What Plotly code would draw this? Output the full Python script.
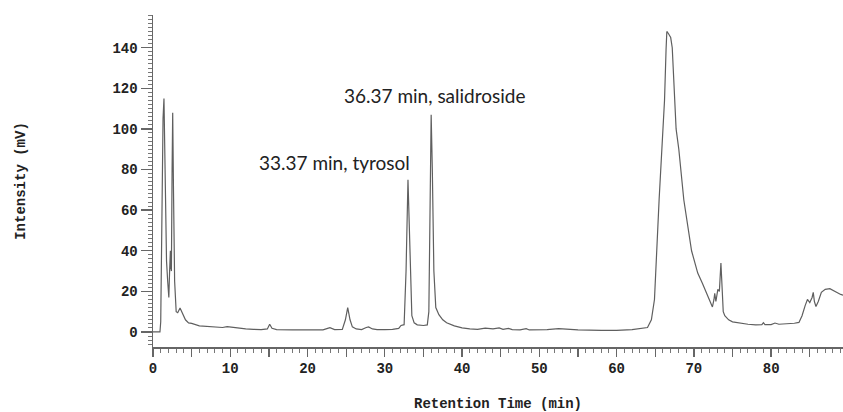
import plotly.graph_objects as go

# Retention time (min) and intensity (mV)
time_min = [
    0, 0.9, 1.0, 1.1, 1.2, 1.3, 1.42, 1.5, 1.6, 1.75, 1.9, 2.05, 2.15, 2.25, 2.3, 2.38, 2.47, 2.55, 2.65, 2.8,
    3.0, 3.2, 3.5, 3.8, 4.2, 4.6, 5.0, 6.0, 7.0, 8.0, 9.0, 9.6, 10.0, 10.5, 11.0, 12.0, 13.0, 14.0, 14.8, 15.1,
    15.4, 16.0, 18.0, 20.0, 22.0, 22.6, 22.9, 23.5, 24.5, 24.9, 25.2, 25.5, 25.8, 26.3, 27.0, 27.6, 27.9, 28.4,
    29.0, 30.0, 31.0, 31.8, 32.1, 32.5, 32.75, 33.0, 33.25, 33.5, 33.8, 34.2, 35.0, 35.5, 35.7, 35.85, 36.0,
    36.15, 36.35, 36.6, 37.0, 37.5, 38.0, 39.0, 40.0, 41.0, 42.0, 43.0, 43.5, 44.0, 44.8, 45.3, 46.0, 46.5,
    47.5, 48.3, 48.7, 50.0, 51.0, 52.5, 53.5, 55.0, 58.0, 60.0, 62.0, 63.5, 64.0, 64.5, 64.9, 65.5, 65.85,
    66.2, 66.4, 66.5, 66.7, 67.0, 67.2, 67.4, 67.7, 68.05, 68.7, 69.7, 70.5, 71.1, 72.0, 72.4, 72.6, 72.7,
    72.85, 73.0, 73.1, 73.3, 73.5, 73.65, 73.8, 74.0, 74.5, 75.0, 76.0, 77.0, 78.0, 78.8, 79.0, 79.2, 80.0,
    80.5, 81.0, 82.0, 83.0, 83.6, 84.0, 84.4, 84.7, 85.0, 85.3, 85.45, 85.6, 85.8, 86.1, 86.5, 87.0, 87.6,
    88.3, 89.0, 89.5,
]
intensity_mv = [
    0, 0, 5, 40, 80, 105, 115, 95, 60, 35, 25, 17, 30, 40, 32, 30, 80, 108, 70, 25,
    10, 9.5, 11.8, 9, 6, 4.5, 4.2, 3.0, 2.8, 2.5, 2.2, 2.6, 2.4, 2.2, 1.9, 1.5, 1.3, 1.2, 1.5, 3.8,
    1.8, 1.2, 1.0, 1.0, 1.0, 1.8, 2.1, 1.2, 1.3, 6, 12, 6, 2.5, 1.5, 1.2, 2.2, 2.5, 1.5,
    1.2, 1.2, 1.3, 1.8, 3.2, 3.6, 30, 75, 35, 8, 4.5, 3.5, 3.2, 3.5, 10, 60, 107,
    80, 30, 12, 8.5, 6, 4.5, 3, 2, 1.5, 1.3, 1.9, 1.6, 1.5, 2.0, 1.3, 1.8, 1.2,
    1.0, 1.6, 1.0, 1.0, 1.2, 1.6, 1.3, 1.0, 0.8, 0.8, 1.2, 1.8, 2.2, 6, 16, 65, 90,
    114, 139, 148, 147, 145, 140, 124, 100, 90, 65, 40, 29, 24, 16, 12.3, 16, 19,
    15, 19, 21, 20, 34, 22, 10, 8, 6, 5, 4.3, 3.8, 3.5, 3.6, 4.6, 3.6, 3.6,
    4.4, 3.8, 4.0, 4.3, 4.7, 8, 13, 16, 14.5, 17, 19.5, 15, 12.5, 15, 19.5, 21, 21.3,
    20, 18.5, 18,
]

x_tick_vals = [0, 5, 10, 15, 20, 25, 30, 35, 40, 45, 50, 55, 60, 65, 70, 75, 80, 85, 90]
x_tick_text = ["0", "", "10", "", "20", "", "30", "", "40", "", "50", "", "60", "", "70", "", "80", "", "90"]
y_tick_vals = [0, 20, 40, 60, 80, 100, 120, 140]

peak_labels = ["33.37 min, tyrosol", "36.37 min, salidroside"]
label_x = [23.5, 36.5]
label_y = [83.7, 116.7]

mono = "Liberation Mono, Courier New, monospace"

fig = go.Figure()
fig.add_trace(go.Scatter(
    x=time_min, y=intensity_mv, mode="lines",
    line=dict(color="#5f5f5f", width=1.2),
    showlegend=False, hoverinfo="skip",
))

for txt, ax, ay in zip(peak_labels, label_x, label_y):
    fig.add_annotation(x=ax, y=ay, text=txt, showarrow=False,
                       xanchor="center", yanchor="middle",
                       font=dict(family="Lato, Noto Sans, sans-serif", size=19, color="#222222"))

fig.update_layout(
    width=843, height=412,
    margin=dict(l=153, r=0, t=15, b=65),
    paper_bgcolor="white", plot_bgcolor="white",
    font=dict(family=mono, size=14, color="#222222"),
)

fig.update_xaxes(
    range=[0, 89.3],
    tickmode="array", tickvals=x_tick_vals,
    ticktext=[f"<b>{t}</b>" if t else "" for t in x_tick_text],
    ticks="outside", ticklen=8, tickwidth=1.3, tickcolor="#666666",
    minor=dict(dtick=1, tick0=0, ticks="outside", ticklen=4, tickwidth=1, tickcolor="#777777"),
    showline=True, linecolor="#666666", linewidth=1.5,
    showgrid=False, zeroline=False,
    tickfont=dict(family=mono, size=14, color="#222222"),
    title=dict(text="<b>Retention Time (min)</b>", font=dict(family=mono, size=14, color="#222222"), standoff=22),
)
fig.update_yaxes(
    range=[-7.4, 156.1],
    tickmode="array", tickvals=y_tick_vals, ticktext=[f"<b>{v}</b>" for v in y_tick_vals],
    ticks="outside", ticklen=11, tickwidth=1.3, tickcolor="#666666",
    minor=dict(dtick=2, tick0=0, ticks="outside", ticklen=4, tickwidth=1, tickcolor="#777777"),
    showline=True, linecolor="#666666", linewidth=1.5,
    showgrid=False, zeroline=False,
    tickfont=dict(family=mono, size=14, color="#222222"),
    title=dict(text="<b>Intensity (mV)</b>", font=dict(family=mono, size=14, color="#222222"), standoff=83),
)

fig.write_html(
    "out.html",
    config={"displayModeBar": False, "staticPlot": True},
    post_script="document.body.style.margin='0';document.body.style.overflow='hidden';",
)
